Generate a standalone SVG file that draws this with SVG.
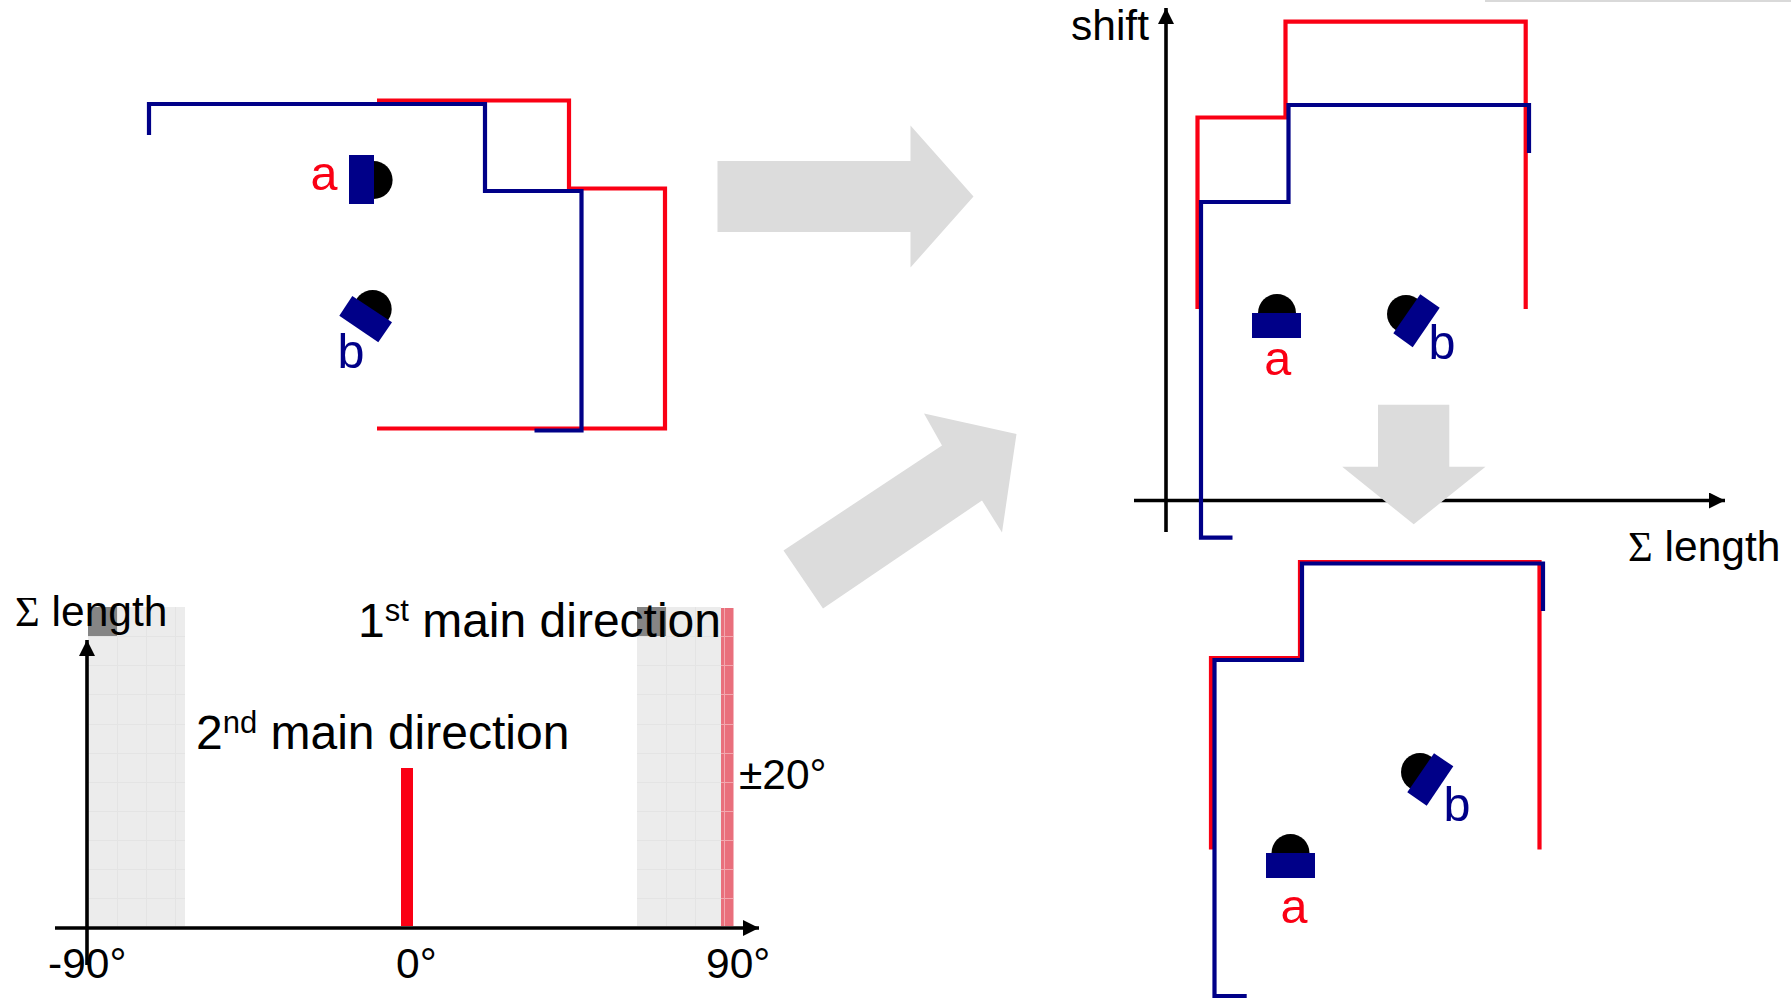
<svg xmlns="http://www.w3.org/2000/svg" width="1791" height="1000" viewBox="0 0 1791 1000">
<style>
text{font-family:"Liberation Sans",Arial,sans-serif;fill:#000}
.big{font-size:48px}
.mid{font-size:42.5px}
.lab{font-size:48.5px}
.ra{fill:#fa0014}
.ba{fill:#000088}
.sup{font-size:31px}
.sig{font-family:"Liberation Serif","Times New Roman",serif}
.r{fill:none;stroke:#fa0014;stroke-width:4.2}
.b{fill:none;stroke:#000088;stroke-width:4.2}
.ax{stroke:#000;stroke-width:3.6;fill:none}
.g{fill:#dcdcdc}
.body{fill:#000}
.head{fill:#000088}
.band{fill:#ececec}
.gl{stroke:#e4e4e4;stroke-width:1;fill:none}
.dk{fill:#858585}
</style>
<defs>
<marker id="ah" markerUnits="userSpaceOnUse" markerWidth="17" markerHeight="17" refX="16" refY="8" orient="auto"><path d="M0,0L16,8L0,16Z" fill="#000"/></marker>
</defs>
<rect id="edge" x="1485" y="0" width="306" height="2" fill="#d9d9d9"/>
<g id="big-arrows">
<polygon class="g" points="717.5,161 910.5,161 910.5,125.6 973.5,196.5 910.5,267.5 910.5,232 717.5,232"/>
<polygon class="g" points="783.5,550.5 942,445.5 924,413.5 1016.5,434 1002,532.5 982,500.5 823,608.5"/>
</g>
<g id="histogram">
<rect class="band" x="88" y="607" width="97" height="319"/>
<rect class="dk" x="88" y="607" width="30" height="30"/>
<path class="gl" d="M117.5,607V926M146.5,607V926M175.5,607V926M88,636.5H185M88,665.5H185M88,694.5H185M88,724.5H185M88,753.5H185M88,782.5H185M88,811.5H185M88,840.5H185M88,869.5H185M88,898.5H185"/>
<rect class="band" x="637" y="607" width="84" height="319"/>
<rect class="dk" x="637" y="607" width="30" height="30"/>
<path class="gl" d="M666.5,607V926M695.5,607V926M637,636.5H721M637,665.5H721M637,694.5H721M637,724.5H721M637,753.5H721M637,782.5H721M637,811.5H721M637,840.5H721M637,869.5H721M637,898.5H721"/>
<rect x="721" y="608" width="12.5" height="318" fill="#e96f7c"/>
<path d="M724.5,608V926M721,636.5H733M721,665.5H733M721,694.5H733M721,724.5H733M721,753.5H733M721,782.5H733M721,811.5H733M721,840.5H733M721,869.5H733M721,898.5H733" stroke="#f3a7ae" stroke-width="1" fill="none"/>
<rect class="ra" x="401" y="768" width="12" height="158"/>
</g>
<g id="connectors">
<path class="ax" d="M87,965V640" marker-end="url(#ah)"/>
<path class="ax" d="M55,928H759" marker-end="url(#ah)"/>
<path class="ax" d="M1166,532V8" marker-end="url(#ah)"/>
<path class="ax" d="M1134,500.5H1725" marker-end="url(#ah)"/>
<path class="r" d="M377,100.5H569V188.5H665V428.5H377"/>
<path class="b" d="M149,135V104H485V191H581.5V430.5H534.5"/>
<path class="r" d="M1197.5,309V117.5H1285.5V21.7H1525.7V309"/>
<path class="b" d="M1529,153V105H1288.5V202H1201V537.7H1232.5"/>
<path class="r" d="M1211,849.5V658H1300V562H1539.5V849.5"/>
<path class="b" d="M1543,611V563.5H1302V660H1214.5V996H1246.7"/>
</g>
<g id="sensor-a1">
<circle class="body" cx="373.6" cy="180" r="19"/>
<rect class="head" x="349" y="155" width="25" height="49"/>
<text class="lab ra" x="310.5" y="190">a</text>
</g>
<g id="sensor-b1">
<circle class="body" cx="372.7" cy="309" r="19"/>
<polygon class="head" points="352.3,296 392,322.3 378.3,342.3 339.3,315.7"/>
<text class="lab ba" x="337.5" y="368">b</text>
</g>
<g id="sensor-a2">
<circle class="body" cx="1277" cy="313" r="19"/>
<rect class="head" x="1252" y="313" width="49" height="25"/>
<text class="lab ra" x="1277.7" y="375" text-anchor="middle">a</text>
</g>
<g id="sensor-b2">
<circle class="body" cx="1406" cy="314" r="19"/>
<polygon class="head" points="1420.3,294.3 1439.7,307.7 1412.7,347.3 1393.3,333.3"/>
<text class="lab ba" x="1428.5" y="359">b</text>
</g>
<g id="sensor-a3">
<circle class="body" cx="1290.5" cy="853" r="19"/>
<rect class="head" x="1266" y="853" width="49" height="25"/>
<text class="lab ra" x="1294" y="923" text-anchor="middle">a</text>
</g>
<g id="sensor-b3">
<circle class="body" cx="1420" cy="772" r="19"/>
<polygon class="head" points="1434,753.3 1453.3,766.3 1426.7,805.7 1407.3,792.3"/>
<text class="lab ba" x="1443.5" y="821">b</text>
</g>
<polygon id="down-arrow" class="g" points="1378,404.7 1449.3,404.7 1449.3,466.7 1485.5,466.7 1413.7,524.3 1342.2,466.7 1378,466.7"/>
<g id="labels">
<text class="mid" x="1071" y="40">shift</text>
<text class="mid" x="1628" y="561"><tspan class="sig">Σ</tspan> length</text>
<text class="mid" x="15" y="626"><tspan class="sig">Σ</tspan> length</text>
<text class="big" x="358" y="637">1<tspan class="sup" dy="-16">st</tspan><tspan dy="16"> main direction</tspan></text>
<text class="big" x="196" y="749">2<tspan class="sup" dy="-16">nd</tspan><tspan dy="16"> main direction</tspan></text>
<text class="mid" x="739" y="789">±20°</text>
<text class="mid" x="48" y="978">-90°</text>
<text class="mid" x="396" y="978">0°</text>
<text class="mid" x="706" y="978">90°</text>
</g>
</svg>
